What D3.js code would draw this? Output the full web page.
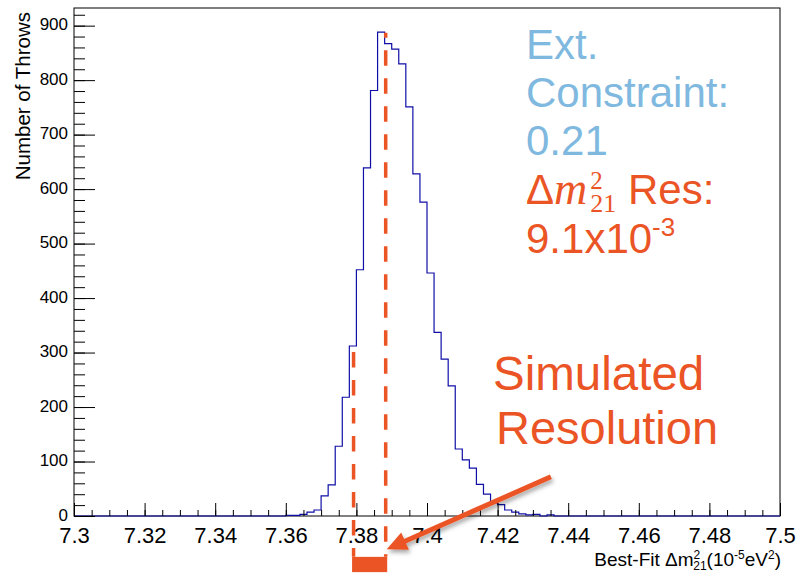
<!DOCTYPE html>
<html><head><meta charset="utf-8">
<script src="https://cdn.jsdelivr.net/npm/d3@7"></script>
<style>body{margin:0;background:#fff} svg{display:block}</style>
</head><body><svg id="c" width="808" height="575"></svg>
<script>
// ---- data ----
const binLows = [7.360,7.362,7.364,7.366,7.368,7.370,7.372,7.374,7.376,7.378,
                 7.380,7.382,7.384,7.386,7.388,7.390,7.392,7.394,7.396,7.398,
                 7.400,7.402,7.404,7.406,7.408,7.410,7.412,7.414,7.416,7.418,
                 7.420,7.422,7.424,7.426,7.428,7.430,7.432,7.434];
const counts  = [1,1,3,7,11,37,57,128,218,312,
                 452,639,781,888,867,857,830,751,628,576,
                 446,337,288,239,123,103,88,58,40,24,
                 21,11,7,4,2,3,0,2];
const binWidth = 0.002;
const xTickValues = [7.3,7.32,7.34,7.36,7.38,7.4,7.42,7.44,7.46,7.48,7.5];
const xTickLabels = ["7.3","7.32","7.34","7.36","7.38","7.4","7.42","7.44","7.46","7.48","7.5"];
const yTickValues = [0,100,200,300,400,500,600,700,800,900];
const yTickLabels = ["0","100","200","300","400","500","600","700","800","900"];
const resLines = [7.3792, 7.3883];       // simulated resolution markers
const resLineTops = [301, 887];          // top value of each dashed marker
const resBottom = -75;                   // dashed lines end (below axis)
const resBar = [-75, -103];              // filled bar range (y data units)
const arrowFrom = [7.4351, 72];
const arrowTo = [7.3886, -61];

// ---- layout ----
const svg = d3.select("#c");
const L = 74, R = 780, T = 8, B = 516;
const x = d3.scaleLinear().domain([7.3, 7.5]).range([L, R]);
const y = d3.scaleLinear().domain([0, 932.4]).range([B, T]);
const orange = "#eb5425", lightBlue = "#80b9e0", histBlue = "#0f0fa8";
const sans = "'Liberation Sans', Arial, Helvetica, sans-serif";
const serif = "'Liberation Serif', 'Times New Roman', serif";

const defs = svg.append("defs");
const f = defs.append("filter").attr("id","sh").attr("x","-20%").attr("y","-50%").attr("width","140%").attr("height","200%");
f.append("feDropShadow").attr("dx",1.5).attr("dy",3).attr("stdDeviation",2).attr("flood-color","#000").attr("flood-opacity",0.35);

// frame
svg.append("rect").attr("x",L).attr("y",T).attr("width",R-L).attr("height",B-T)
  .attr("fill","none").attr("stroke","#000").attr("stroke-width",1);

// histogram step outline
const pts = [[7.3,0]];
binLows.forEach((b,i)=>pts.push([b,counts[i]]));
pts.push([binLows[binLows.length-1]+binWidth,0]);
pts.push([7.5,0]);
svg.append("path").attr("d", d3.line().x(d=>x(d[0])).y(d=>y(d[1])).curve(d3.curveStepAfter)(pts))
  .attr("fill","none").attr("stroke",histBlue).attr("stroke-width",1.2);

// axes
const xAxisMinor = d3.axisBottom(x).tickValues(d3.range(0,41).map(i=>7.3+i*0.005)).tickSizeInner(-6).tickSizeOuter(0).tickFormat("");
const gxm = svg.append("g").attr("transform",`translate(0,${B})`).call(xAxisMinor);
const xAxis = d3.axisBottom(x).tickValues(xTickValues).tickSizeInner(-13).tickSizeOuter(0).tickPadding(11)
  .tickFormat((d,i)=>xTickLabels[i]);
const gx = svg.append("g").attr("transform",`translate(0,${B})`).call(xAxis);
const yAxisMinor = d3.axisLeft(y).tickValues(d3.range(0,47).map(i=>i*20)).tickSizeInner(-11).tickSizeOuter(0).tickFormat("");
const gym = svg.append("g").attr("transform",`translate(${L},0)`).call(yAxisMinor);
const yAxis = d3.axisLeft(y).tickValues(yTickValues).tickSizeInner(-21).tickSizeOuter(0).tickPadding(6)
  .tickFormat((d,i)=>yTickLabels[i]);
const gy = svg.append("g").attr("transform",`translate(${L},0)`).call(yAxis);
[gx,gxm,gy,gym].forEach(g=>{g.select(".domain").remove(); g.selectAll("line").attr("stroke","#000");});
gx.selectAll("text").attr("font-family",sans).attr("font-size",22).attr("fill","#000");
gy.selectAll("text").attr("font-family",sans).attr("font-size",17).attr("fill","#000").attr("dy","0.25em");

// axis titles
svg.append("text").attr("transform","translate(30,12) rotate(-90)").attr("text-anchor","end")
  .attr("font-family",sans).attr("font-size",20.5).text("Number of Throws");
const xt = svg.append("text").attr("x",R+1).attr("y",566).attr("text-anchor","end")
  .attr("font-family",sans).attr("font-size",19);
xt.append("tspan").text("Best-Fit \u0394m");
xt.append("tspan").attr("font-size",12).attr("dy",-7).text("2");
xt.append("tspan").attr("font-size",12).attr("dx",-7).attr("dy",11).text("21");
xt.append("tspan").attr("dy",-4).text("(10");
xt.append("tspan").attr("font-size",12).attr("dy",-7).text("-5");
xt.append("tspan").attr("dy",7).text("eV");
xt.append("tspan").attr("font-size",12).attr("dy",-7).text("2");
xt.append("tspan").attr("dy",7).text(")");

// resolution dashed markers
resLines.forEach((v,i)=>{
  svg.append("line").attr("x1",x(v)).attr("x2",x(v)).attr("y1",y(resLineTops[i])).attr("y2",y(resBottom))
    .attr("stroke",orange).attr("stroke-width",3.5).attr("stroke-dasharray","15.5,12.5")
    .attr("stroke-dashoffset", i===1 ? 10.5 : 0);
});
svg.append("rect").attr("x",x(resLines[0])-1.5).attr("y",y(resBar[0])).attr("width",x(resLines[1])-x(resLines[0])+3)
  .attr("height",y(resBar[1])-y(resBar[0])).attr("fill",orange);

// arrow
{
  const x0=x(arrowFrom[0]), y0=y(arrowFrom[1]), x1=x(arrowTo[0]), y1=y(arrowTo[1]);
  const dx=x1-x0, dy=y1-y0, len=Math.hypot(dx,dy), ux=dx/len, uy=dy/len;
  const hl=20, hw=9.5;
  const bx=x1-ux*hl, by=y1-uy*hl;
  const g = svg.append("g").attr("filter","url(#sh)");
  g.append("line").attr("x1",x0).attr("y1",y0).attr("x2",bx+ux*2).attr("y2",by+uy*2)
    .attr("stroke",orange).attr("stroke-width",5);
  g.append("path").attr("d",`M${x1},${y1}L${bx-uy*hw},${by+ux*hw}L${bx+uy*hw},${by-ux*hw}Z`).attr("fill",orange);
}

// annotation text
const ann = svg.append("g").attr("font-family",sans);
ann.append("text").attr("x",526).attr("y",59).attr("font-size",42).attr("fill",lightBlue).text("Ext.");
ann.append("text").attr("x",526).attr("y",107).attr("font-size",42).attr("fill",lightBlue).text("Constraint:");
ann.append("text").attr("x",526).attr("y",155).attr("font-size",42).attr("fill",lightBlue).text("0.21");
const r1 = ann.append("text").attr("x",526).attr("y",204).attr("font-size",42).attr("fill",orange);
r1.append("tspan").text("\u0394");
r1.append("tspan").attr("font-family",serif).attr("font-style","italic").attr("font-size",46).text("m");
r1.append("tspan").attr("font-family",serif).attr("font-size",25).attr("dx",3).attr("dy",-15).text("2");
r1.append("tspan").attr("font-family",serif).attr("font-size",26).attr("dx",-12.5).attr("dy",23).text("21");
r1.append("tspan").attr("dy",-8).text(" Res:");
const r2 = ann.append("text").attr("x",526).attr("y",253).attr("font-size",42).attr("fill",orange);
r2.append("tspan").text("9.1x10");
r2.append("tspan").attr("font-size",26).attr("dy",-17).text("-3");

ann.append("text").attr("x",493).attr("y",390).attr("font-size",47.5).attr("fill",orange).text("Simulated");
ann.append("text").attr("x",496).attr("y",444).attr("font-size",47).attr("fill",orange).text("Resolution");
</script></body></html>
